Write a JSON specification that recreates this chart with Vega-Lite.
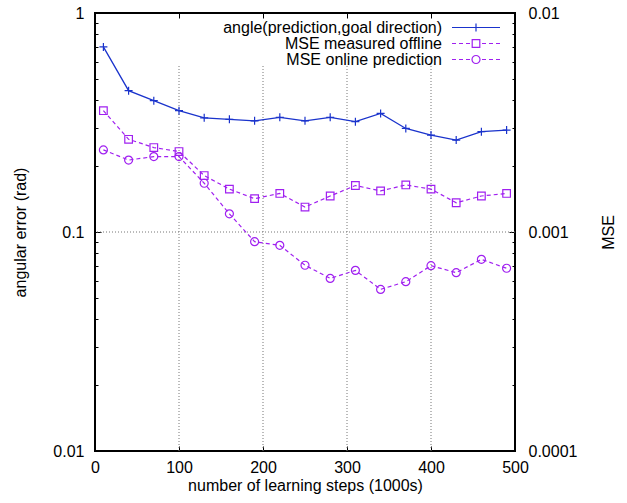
{
  "$schema": "https://vega.github.io/schema/vega-lite/v6.json",
  "width": 420,
  "height": 438,
  "autosize": {"type": "none"},
  "padding": {"left": 95, "top": 13, "right": 112, "bottom": 52},
  "background": "white",
  "config": {
    "font": "Liberation Sans",
    "view": {"stroke": "black", "strokeWidth": 2},
    "axis": {
      "labelFont": "Liberation Sans",
      "labelFontSize": 16,
      "labelColor": "black",
      "titleFont": "Liberation Sans",
      "titleFontSize": 16,
      "titleFontWeight": "normal",
      "titleColor": "black",
      "tickColor": "black",
      "tickWidth": 1,
      "domain": false,
      "grid": false,
      "labelFlush": false,
      "labelOverlap": false
    },
    "legend": {"labelFont": "Liberation Sans", "labelFontSize": 16, "labelColor": "black", "labelLimit": 0}
  },
  "datasets": {
    "d": [
      {"step": 10, "series": "angle(prediction,goal direction)", "value": 0.70},
      {"step": 40, "series": "angle(prediction,goal direction)", "value": 0.442},
      {"step": 70, "series": "angle(prediction,goal direction)", "value": 0.398},
      {"step": 100, "series": "angle(prediction,goal direction)", "value": 0.358},
      {"step": 130, "series": "angle(prediction,goal direction)", "value": 0.332},
      {"step": 160, "series": "angle(prediction,goal direction)", "value": 0.327},
      {"step": 190, "series": "angle(prediction,goal direction)", "value": 0.322},
      {"step": 220, "series": "angle(prediction,goal direction)", "value": 0.334},
      {"step": 250, "series": "angle(prediction,goal direction)", "value": 0.322},
      {"step": 280, "series": "angle(prediction,goal direction)", "value": 0.334},
      {"step": 310, "series": "angle(prediction,goal direction)", "value": 0.319},
      {"step": 340, "series": "angle(prediction,goal direction)", "value": 0.348},
      {"step": 370, "series": "angle(prediction,goal direction)", "value": 0.297},
      {"step": 400, "series": "angle(prediction,goal direction)", "value": 0.277},
      {"step": 430, "series": "angle(prediction,goal direction)", "value": 0.263},
      {"step": 460, "series": "angle(prediction,goal direction)", "value": 0.287},
      {"step": 490, "series": "angle(prediction,goal direction)", "value": 0.292},
      {"step": 10, "series": "MSE measured offline", "value": 0.00358},
      {"step": 40, "series": "MSE measured offline", "value": 0.00265},
      {"step": 70, "series": "MSE measured offline", "value": 0.00243},
      {"step": 100, "series": "MSE measured offline", "value": 0.00233},
      {"step": 130, "series": "MSE measured offline", "value": 0.00181},
      {"step": 160, "series": "MSE measured offline", "value": 0.00157},
      {"step": 190, "series": "MSE measured offline", "value": 0.00142},
      {"step": 220, "series": "MSE measured offline", "value": 0.00150},
      {"step": 250, "series": "MSE measured offline", "value": 0.00130},
      {"step": 280, "series": "MSE measured offline", "value": 0.00146},
      {"step": 310, "series": "MSE measured offline", "value": 0.00163},
      {"step": 340, "series": "MSE measured offline", "value": 0.00154},
      {"step": 370, "series": "MSE measured offline", "value": 0.00164},
      {"step": 400, "series": "MSE measured offline", "value": 0.00157},
      {"step": 430, "series": "MSE measured offline", "value": 0.00136},
      {"step": 460, "series": "MSE measured offline", "value": 0.00146},
      {"step": 490, "series": "MSE measured offline", "value": 0.00150},
      {"step": 10, "series": "MSE online prediction", "value": 0.00237},
      {"step": 40, "series": "MSE online prediction", "value": 0.00213},
      {"step": 70, "series": "MSE online prediction", "value": 0.00221},
      {"step": 100, "series": "MSE online prediction", "value": 0.00221},
      {"step": 130, "series": "MSE online prediction", "value": 0.00167},
      {"step": 160, "series": "MSE online prediction", "value": 0.00121},
      {"step": 190, "series": "MSE online prediction", "value": 0.000903},
      {"step": 220, "series": "MSE online prediction", "value": 0.000869},
      {"step": 250, "series": "MSE online prediction", "value": 0.000705},
      {"step": 280, "series": "MSE online prediction", "value": 0.000614},
      {"step": 310, "series": "MSE online prediction", "value": 0.000668},
      {"step": 340, "series": "MSE online prediction", "value": 0.000547},
      {"step": 370, "series": "MSE online prediction", "value": 0.000593},
      {"step": 400, "series": "MSE online prediction", "value": 0.000702},
      {"step": 430, "series": "MSE online prediction", "value": 0.000652},
      {"step": 460, "series": "MSE online prediction", "value": 0.00075},
      {"step": 490, "series": "MSE online prediction", "value": 0.000683}
    ],
    "grid": [{"step": 100}, {"step": 200}, {"step": 300}, {"step": 400}],
    "names": [
      {"series": "angle(prediction,goal direction)"},
      {"series": "MSE measured offline"},
      {"series": "MSE online prediction"}
    ]
  },
  "layer": [
    {
      "layer": [
        {
          "data": {"name": "grid"},
          "mark": {"type": "rule", "color": "#777777", "strokeWidth": 1, "strokeDash": [1, 2]},
          "encoding": {
            "x": {"field": "step", "type": "quantitative", "scale": {"domain": [0, 500], "nice": false}},
            "y": {"datum": 0.01, "type": "quantitative"},
            "y2": {"datum": 0.58}
          }
        },
        {
          "data": {"name": "names"},
          "mark": {"type": "rule", "color": "#777777", "strokeWidth": 1, "strokeDash": [1, 2]},
          "transform": [{"filter": "datum.series === 'MSE measured offline'"}],
          "encoding": {
            "y": {"datum": 0.1, "type": "quantitative"}
          }
        },
        {
          "data": {"name": "d"},
          "transform": [{"filter": "datum.series === 'angle(prediction,goal direction)'"}],
          "mark": {"type": "line", "color": "#1a33cc", "strokeWidth": 1.3},
          "encoding": {
            "x": {
              "field": "step", "type": "quantitative",
              "scale": {"domain": [0, 500], "nice": false},
              "axis": {
                "orient": "bottom",
                "values": [0, 100, 200, 300, 400, 500],
                "tickSize": -5,
                "labelPadding": 13,
                "title": "number of learning steps (1000s)",
                "titlePadding": 2
              }
            },
            "y": {
              "field": "value", "type": "quantitative",
              "scale": {"type": "log", "domain": [0.01, 1], "nice": false},
              "axis": {
                "orient": "left",
                "values": [0.01, 0.02, 0.03, 0.04, 0.05, 0.06, 0.07, 0.08, 0.09, 0.1, 0.2, 0.3, 0.4, 0.5, 0.6, 0.7, 0.8, 0.9, 1],
                "labelExpr": "datum.value == 1 ? '1' : datum.value == 0.1 ? '0.1' : datum.value == 0.01 ? '0.01' : ''",
                "tickSize": {"condition": {"test": "datum.value == 1 || datum.value == 0.1 || datum.value == 0.01", "value": -6}, "value": -3},
                "labelPadding": 17,
                "title": "angular error (rad)",
                "titlePadding": 24
              }
            }
          }
        },
        {
          "data": {"name": "d"},
          "transform": [{"filter": "datum.series === 'angle(prediction,goal direction)'"}],
          "mark": {"type": "point", "shape": "M-1,0H1M0,-1V1", "filled": false, "color": "#1a33cc", "size": 64, "strokeWidth": 1.2, "opacity": 1},
          "encoding": {
            "x": {"field": "step", "type": "quantitative"},
            "y": {"field": "value", "type": "quantitative"}
          }
        },
        {
          "data": {"name": "names"},
          "transform": [{"filter": "false"}],
          "mark": {"type": "point", "filled": false, "opacity": 1, "strokeWidth": 1.2},
          "encoding": {
            "color": {
              "field": "series", "type": "nominal",
              "scale": {
                "domain": ["angle(prediction,goal direction)", "MSE measured offline", "MSE online prediction"],
                "range": ["#1a33cc", "#a020f0", "#a020f0"]
              },
              "legend": {
                "title": null,
                "orient": "none",
                "legendX": 373,
                "legendY": 6.5,
                "padding": 0,
                "symbolOpacity": 1,
                "symbolSize": 100,
                "symbolStrokeWidth": 1.2,
                "rowPadding": 0,
                "labelAlign": "right",
                "labelBaseline": "middle",
                "labelOffset": -42,
                "labelLimit": 0
              }
            },
            "shape": {
              "field": "series", "type": "nominal",
              "scale": {
                "domain": ["angle(prediction,goal direction)", "MSE measured offline", "MSE online prediction"],
                "range": [
                  "M-4.8,0H4.8M0,-0.8V0.8",
                  "M-0.76,-0.76H0.76V0.76H-0.76ZM-4.8,0H-4M-3.4,0H-2.6M-2,0H-1.2M1.2,0H2M2.6,0H3.4M4,0H4.8",
                  "M-0.8,0A0.8,0.8 0 1 0 0.8,0A0.8,0.8 0 1 0 -0.8,0ZM-4.8,0H-4M-3.4,0H-2.6M-2,0H-1.2M1.2,0H2M2.6,0H3.4M4,0H4.8"
                ]
              }
            }
          }
        }
      ]
    },
    {
      "data": {"name": "d"},
      "layer": [
        {
          "transform": [{"filter": "datum.series === 'MSE measured offline'"}],
          "mark": {"type": "line", "color": "#a020f0", "strokeWidth": 1.2, "strokeDash": [4, 3]},
          "encoding": {
            "x": {
              "field": "step", "type": "quantitative",
              "scale": {"domain": [0, 500], "nice": false},
              "axis": {
                "orient": "top",
                "values": [100, 200, 300, 400],
                "tickSize": -5,
                "labels": false,
                "title": null
              }
            },
            "y": {
              "field": "value", "type": "quantitative",
              "scale": {"type": "log", "domain": [0.0001, 0.01], "nice": false},
              "axis": {
                "orient": "right",
                "values": [0.0001, 0.0002, 0.0003, 0.0004, 0.0005, 0.0006, 0.0007, 0.0008, 0.0009, 0.001, 0.002, 0.003, 0.004, 0.005, 0.006, 0.007, 0.008, 0.009, 0.01],
                "labelExpr": "datum.value == 0.01 ? '0.01' : datum.value == 0.001 ? '0.001' : datum.value == 0.0001 ? '0.0001' : ''",
                "tickSize": {"condition": {"test": "datum.value == 0.01 || datum.value == 0.001 || datum.value == 0.0001", "value": -6}, "value": -3},
                "labelPadding": 19,
                "title": "MSE",
                "titleAngle": 270,
                "titleBaseline": "top",
                "titlePadding": 24
              }
            }
          }
        },
        {
          "transform": [{"filter": "datum.series === 'MSE measured offline'"}],
          "mark": {"type": "point", "shape": "square", "filled": false, "color": "#a020f0", "size": 58, "strokeWidth": 1.2, "opacity": 1},
          "encoding": {
            "x": {"field": "step", "type": "quantitative"},
            "y": {"field": "value", "type": "quantitative"}
          }
        },
        {
          "transform": [{"filter": "datum.series === 'MSE online prediction'"}],
          "mark": {"type": "line", "color": "#a020f0", "strokeWidth": 1.2, "strokeDash": [4, 3]},
          "encoding": {
            "x": {"field": "step", "type": "quantitative"},
            "y": {"field": "value", "type": "quantitative"}
          }
        },
        {
          "transform": [{"filter": "datum.series === 'MSE online prediction'"}],
          "mark": {"type": "point", "shape": "circle", "filled": false, "color": "#a020f0", "size": 64, "strokeWidth": 1.2, "opacity": 1},
          "encoding": {
            "x": {"field": "step", "type": "quantitative"},
            "y": {"field": "value", "type": "quantitative"}
          }
        }
      ]
    }
  ],
  "resolve": {"scale": {"x": "independent", "y": "independent"}}
}
